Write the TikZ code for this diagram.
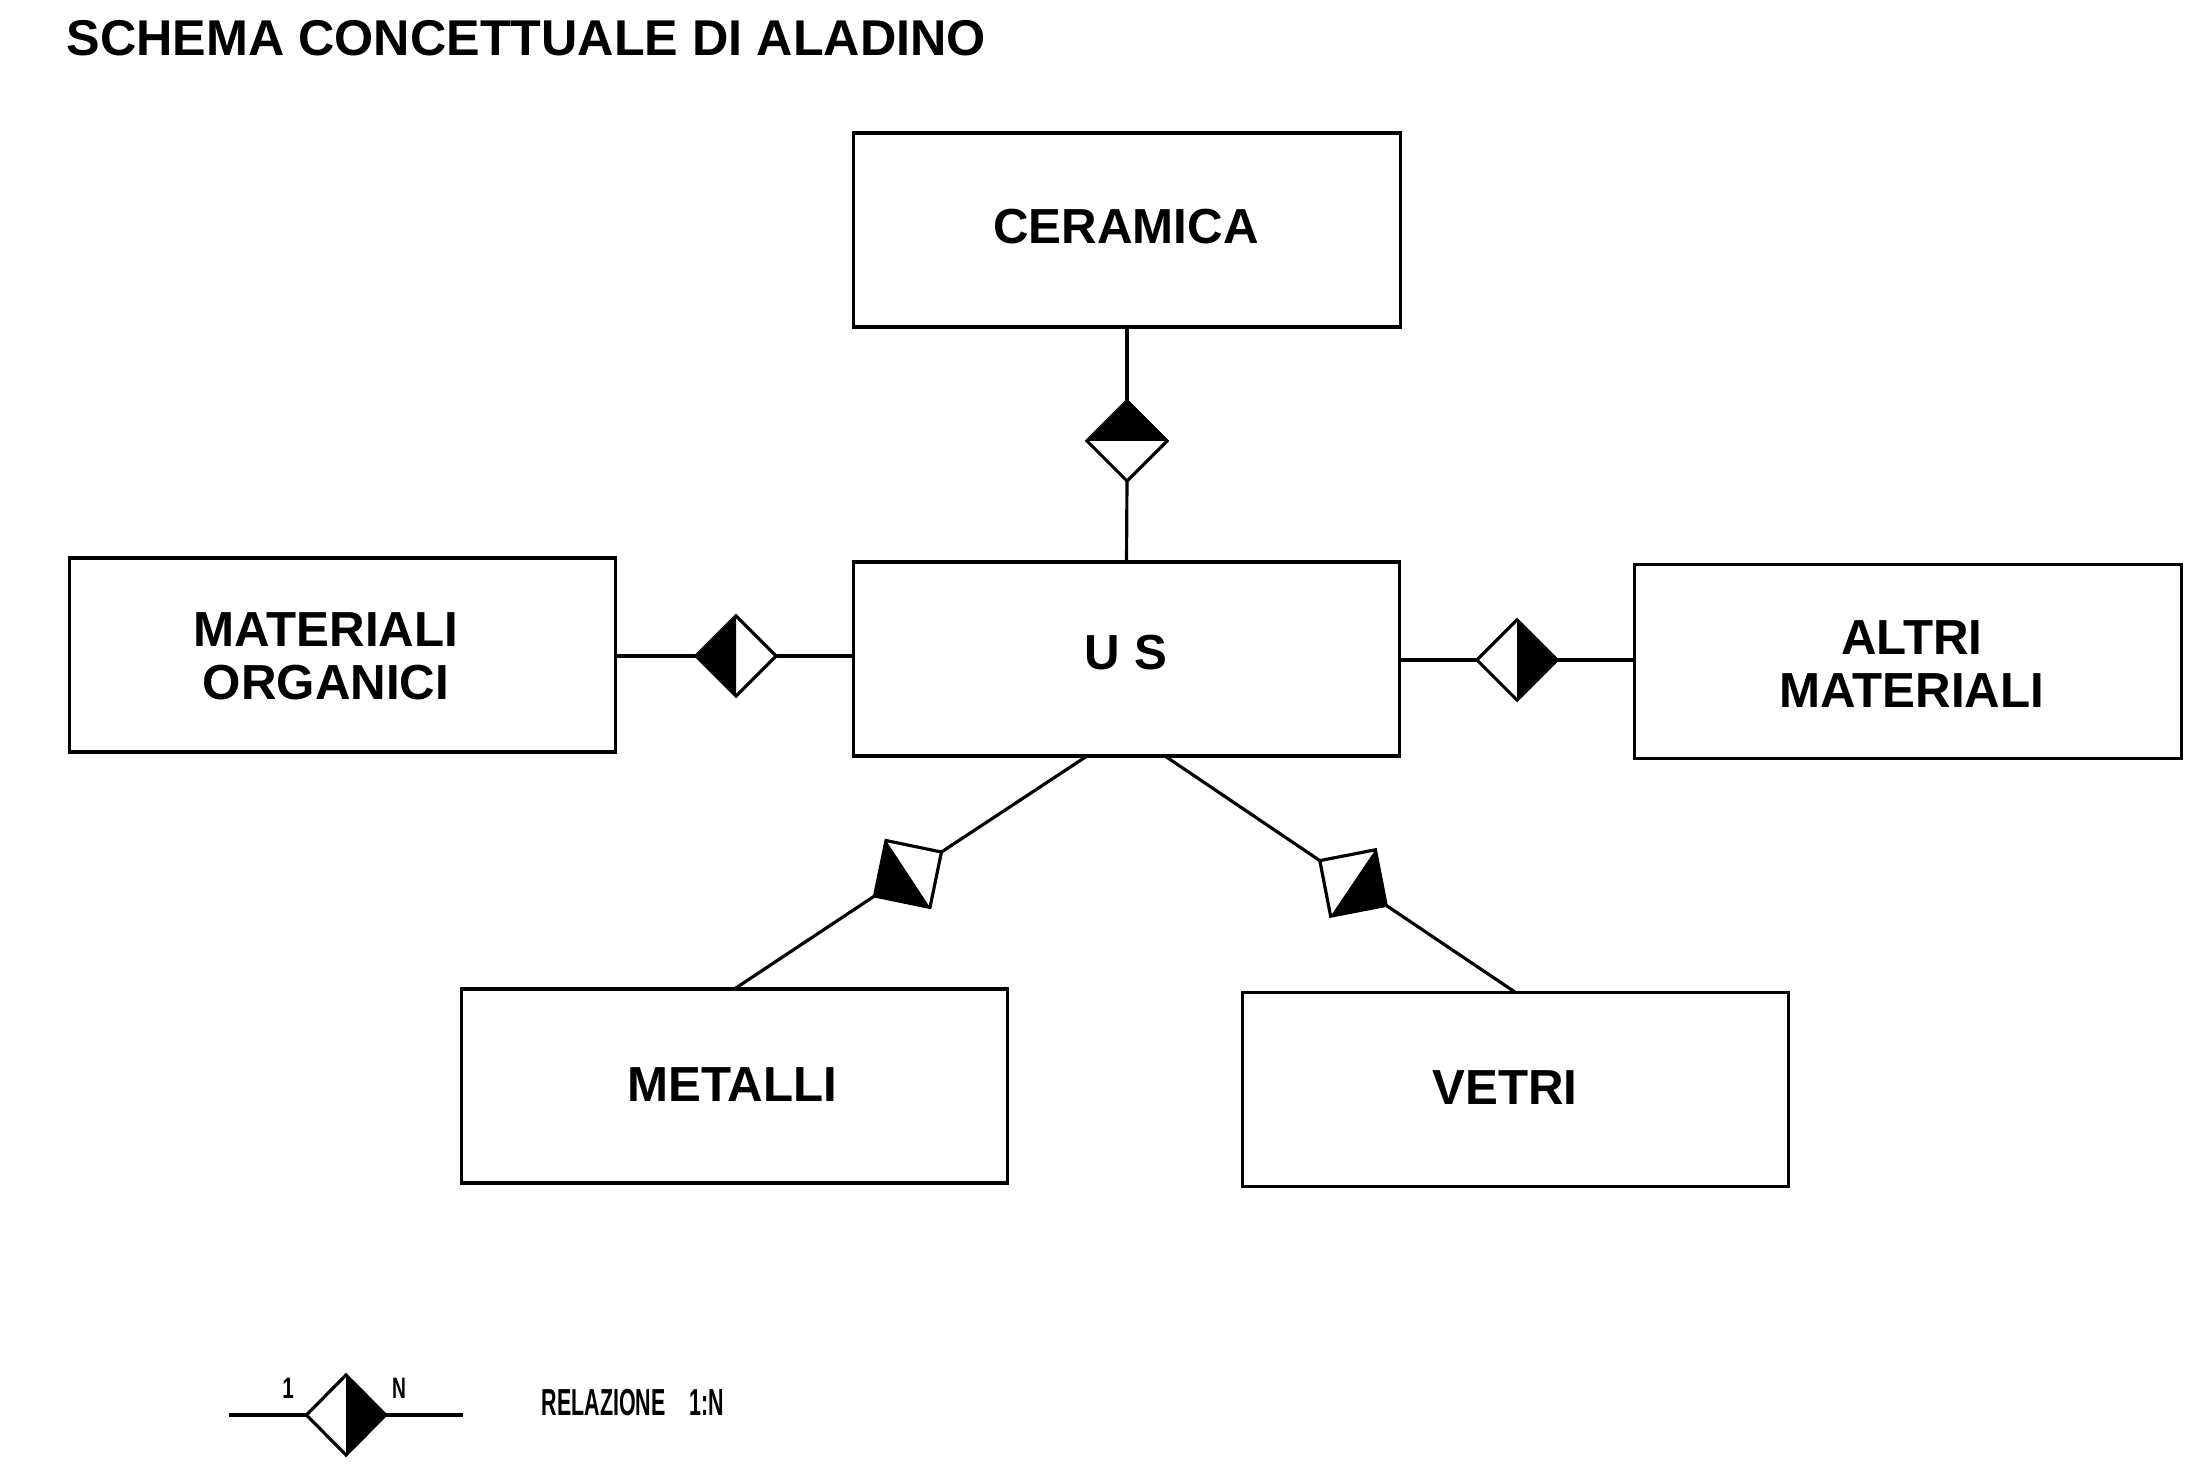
\documentclass[tikz,border=0pt]{standalone}
\usepackage{fontspec}
\usepackage{graphicx}
\setmainfont{Liberation Sans}
\usetikzlibrary{shapes.geometric,calc}
\newcommand\halffill[1]{\fill (#1.east) -- (#1.north) -- (#1.south) -- cycle;}
\begin{document}
\begin{tikzpicture}[x=0.01cm,y=-0.01cm,
  box/.style={draw, line width=0.9pt, minimum width=5.46cm, minimum height=1.94cm, inner sep=0pt, outer sep=0pt},
  lbl/.style={font=\fontsize{14}{15}\selectfont\bfseries, align=center, inner sep=0pt},
  rel/.style={diamond, draw, line width=0.9pt, minimum width=0.8cm, minimum height=0.8cm, inner sep=0pt, outer sep=0pt},
  conn/.style={line width=0.9pt}]
\useasboundingbox (0,0) rectangle (2193,1474);
\fill[white] (0,0) rectangle (2193,1474);

\node[anchor=west, inner sep=0pt, font=\fontsize{14.3}{17}\selectfont\bfseries] (title) at (66,38) {SCHEMA CONCETTUALE DI ALADINO};

% entity boxes
\node[box] (cer) at (1127,230) {};
\node[box] (us) at (1126.5,659) {};
\node[box] (mat) at (342.5,655) {};
\node[box] (alt) at (1908,661.5) {};
\node[box] (met) at (734.5,1086) {};
\node[box] (vet) at (1515.5,1089.5) {};

\node[lbl] (tcer) at (1126,227) {CERAMICA};
\node[lbl] (tus) at (1126,653) {U S};
\node[lbl] (tmat) at (326,656) {MATERIALI\\ORGANICI};
\node[lbl] (talt) at (1912,664) {ALTRI\\MATERIALI};
\node[lbl] (tmet) at (732,1085) {METALLI};
\node[lbl] (tvet) at (1505,1088) {VETRI};

% relation diamonds
\node[rel, rotate=90] (dcer) at (1127,441) {};
\node[rel, rotate=180] (dmat) at (736,656) {};
\node[rel] (dalt) at (1517,660) {};
\node[rel, rotate=213.3] (dmet) at (908,874) {};
\node[rel, rotate=-34] (dvet) at (1353,883) {};
\halffill{dcer}
\halffill{dmat}
\halffill{dalt}
\halffill{dmet}
\halffill{dvet}

% connectors
\draw[conn] (cer.south) -- (dcer.east);
\draw[conn] (dcer.west) -- (us.north);
\draw[conn] (dmat.east -| mat.east) -- (dmat.east);
\draw[conn] (dmat.west) -- (dmat.west -| us.west);
\draw[conn] (dalt.west -| us.east) -- (dalt.west);
\draw[conn] (dalt.east) -- (dalt.east -| alt.west);
\coordinate (usl) at ([xshift=-0.395cm]us.south);
\coordinate (usr) at ([xshift=0.385cm]us.south);
\draw[conn] (usl) -- (dmet.west);
\draw[conn] (dmet.east) -- (met.north);
\draw[conn] (usr) -- (dvet.west);
\draw[conn] (dvet.east) -- (vet.north);

% legend
\node[rel, minimum width=0.79cm, minimum height=0.80cm] (dleg) at (346,1415) {};
\halffill{dleg}
\coordinate (la) at (229,1415);
\coordinate (lb) at (463,1415);
\draw[conn] (la) -- (dleg.west);
\draw[conn] (dleg.east) -- (lb);
\node[font=\fontsize{8.4}{10}\selectfont\bfseries, inner sep=0pt] (lone) at (288,1388) {\scalebox{0.7}[1]{1}};
\node[font=\fontsize{8.4}{10}\selectfont\bfseries, inner sep=0pt] (ln) at (399,1388) {\scalebox{0.65}[1]{N}};
\node[anchor=west, inner sep=0pt, font=\fontsize{10.7}{12}\selectfont\bfseries] (lrel) at (541,1403) {\scalebox{0.57}[1]{RELAZIONE\hspace{0.42cm}1:N}};
\end{tikzpicture}
\end{document}
